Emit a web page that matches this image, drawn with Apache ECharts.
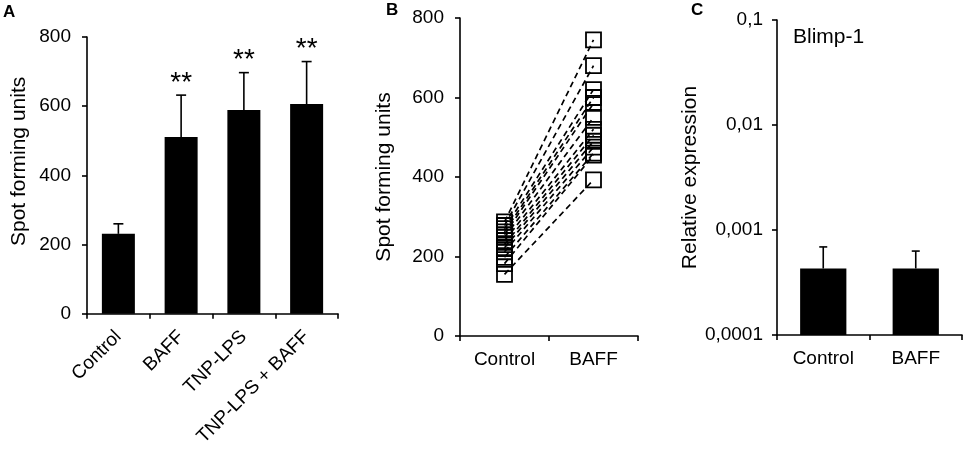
<!DOCTYPE html>
<html>
<head>
<meta charset="utf-8">
<script src="https://cdn.jsdelivr.net/npm/echarts@6/dist/echarts.min.js"></script>
<style>
html,body{margin:0;padding:0;background:#fff;}
#chart{width:965px;height:449px;}
</style>
</head>
<body>
<div id="chart"></div>
<script>
// ---- Data ----
const catsA = ['Control', 'BAFF', 'TNP-LPS', 'TNP-LPS + BAFF'];
const meanA = [231, 511, 589, 606];
const errTopA = [260, 632, 697, 729];
const starsA = ['', '**', '**', '**'];
const ticksA = [0, 200, 400, 600, 800];

const catsB = ['Control', 'BAFF'];
const controlB = [287, 278, 270, 262, 255, 248, 240, 230, 222, 212, 198, 182, 155];
const baffB    = [745, 680, 620, 600, 585, 550, 520, 505, 490, 475, 460, 455, 393];

const catsC = ['Control', 'BAFF'];
const meanC = [0.00043, 0.00043];
const errTopC = [0.00069, 0.00063];
const ticksC = [0.0001, 0.001, 0.01, 0.1];
const labelC = 'Blimp-1';

// ---- Styling helpers ----
const FONT = 'Liberation Sans, Arial, sans-serif';
const TICK_FS = 19;
const NAME_FS = 21;
const axisLineStyle = {color: '#000', width: 1.6};
function catAxis(grid, data, extraLabel) {
  return {
    gridIndex: grid, type: 'category', data: data,
    axisLine: {show: true, lineStyle: axisLineStyle},
    axisTick: {show: true, length: 5, lineStyle: axisLineStyle},
    axisLabel: Object.assign({color: '#000', fontSize: TICK_FS, fontFamily: FONT, margin: 14, interval: 0}, extraLabel || {}),
    splitLine: {show: false}
  };
}
function valAxis(grid, name, nameGap, extra) {
  return Object.assign({
    gridIndex: grid, type: 'value',
    name: name, nameLocation: 'middle', nameGap: nameGap,
    nameTextStyle: {color: '#000', fontSize: NAME_FS, fontFamily: FONT},
    axisLine: {show: true, lineStyle: axisLineStyle},
    axisTick: {show: true, length: 5, lineStyle: axisLineStyle},
    axisLabel: {color: '#000', fontSize: TICK_FS, fontFamily: FONT, margin: 16},
    splitLine: {show: false}
  }, extra);
}

// error bar renderer (upper whisker + cap), with optional text above
function errRender(mean, top, stars, capHalf) {
  return function (params, api) {
    const i = params.dataIndex;
    const p1 = api.coord([i, mean[i]]);
    const p2 = api.coord([i, top[i]]);
    const children = [
      {type: 'line', shape: {x1: p1[0], y1: p1[1], x2: p2[0], y2: p2[1]}, style: {stroke: '#000', lineWidth: 1.6}},
      {type: 'line', shape: {x1: p2[0] - capHalf, y1: p2[1], x2: p2[0] + capHalf, y2: p2[1]}, style: {stroke: '#000', lineWidth: 1.6}}
    ];
    if (stars && stars[i]) {
      children.push({type: 'text', x: p2[0], y: p2[1] + 2,
        style: {text: stars[i], fill: '#000', fontSize: 28, fontFamily: FONT, align: 'center', verticalAlign: 'bottom'}});
    }
    return {type: 'group', children: children};
  };
}

// bars on log axis drawn from axis minimum
function logBarRender(mean, base) {
  return function (params, api) {
    const i = params.dataIndex;
    const pTop = api.coord([i, mean[i]]);
    const pBot = api.coord([i, base]);
    const w = api.size([1, mean[i]])[0] * 0.5;
    return {type: 'rect', shape: {x: pTop[0] - w / 2, y: pTop[1], width: w, height: pBot[1] - pTop[1]},
      style: {fill: '#000'}};
  };
}

const pairSeries = controlB.map((c, k) => ({
  type: 'line', xAxisIndex: 1, yAxisIndex: 1,
  data: [c, baffB[k]],
  symbol: 'rect', symbolSize: 15,
  itemStyle: {color: 'rgba(0,0,0,0)', borderColor: '#000', borderWidth: 1.8},
  lineStyle: {color: '#000', width: 1.7, type: [6, 4]},
  z: 3
}));

const option = {
  animation: false,
  backgroundColor: '#fff',
  textStyle: {fontFamily: FONT},
  grid: [
    {left: 87, top: 37, width: 251, height: 280},
    {left: 460, top: 18, width: 178, height: 318},
    {left: 777, top: 20, width: 185, height: 315}
  ],
  xAxis: [
    catAxis(0, catsA, {rotate: 45, margin: 20}),
    catAxis(1, catsB),
    catAxis(2, catsC)
  ],
  yAxis: [
    valAxis(0, 'Spot forming units', 57, {min: ticksA[0], max: ticksA[ticksA.length - 1], interval: 200,
      nameTextStyle: {color: '#000', fontSize: NAME_FS, fontFamily: FONT, padding: [0, 0, 0, 28]}}),
    valAxis(1, 'Spot forming units', 65, {min: 0, max: 800, interval: 200}),
    valAxis(2, 'Relative expression', 71, {type: 'log', logBase: 10, min: ticksC[0], max: ticksC[ticksC.length - 1],
      axisLabel: {color: '#000', fontSize: TICK_FS, fontFamily: FONT, margin: 14,
        formatter: v => String(+v.toPrecision(3)).replace('.', ',')},
      minorTick: {show: false}})
  ],
  graphic: [
    {type: 'text', left: 3, top: 4, style: {text: 'A', fontSize: 17, fontWeight: 'bold', fill: '#000', fontFamily: FONT}},
    {type: 'text', left: 386, top: 2, style: {text: 'B', fontSize: 17, fontWeight: 'bold', fill: '#000', fontFamily: FONT}},
    {type: 'text', left: 691, top: 2, style: {text: 'C', fontSize: 17, fontWeight: 'bold', fill: '#000', fontFamily: FONT}},
    {type: 'text', left: 793, top: 27, style: {text: labelC, fontSize: 21, fill: '#000', fontFamily: FONT}}
  ],
  series: [
    {type: 'bar', xAxisIndex: 0, yAxisIndex: 0, data: meanA, barWidth: 33,
      itemStyle: {color: '#000'}, z: 2},
    {type: 'custom', xAxisIndex: 0, yAxisIndex: 0, data: meanA.map((m, i) => [i, m, errTopA[i]]),
      renderItem: errRender(meanA, errTopA, starsA, 5), z: 3},
    ...pairSeries,
    {type: 'custom', xAxisIndex: 2, yAxisIndex: 2, data: meanC.map((m, i) => [i, m]),
      renderItem: logBarRender(meanC, ticksC[0]), z: 2},
    {type: 'custom', xAxisIndex: 2, yAxisIndex: 2, data: meanC.map((m, i) => [i, m, errTopC[i]]),
      renderItem: errRender(meanC, errTopC, null, 4), z: 3}
  ]
};

const chart = echarts.init(document.getElementById('chart'), null, {renderer: 'canvas'});
chart.setOption(option);
</script>
</body>
</html>
